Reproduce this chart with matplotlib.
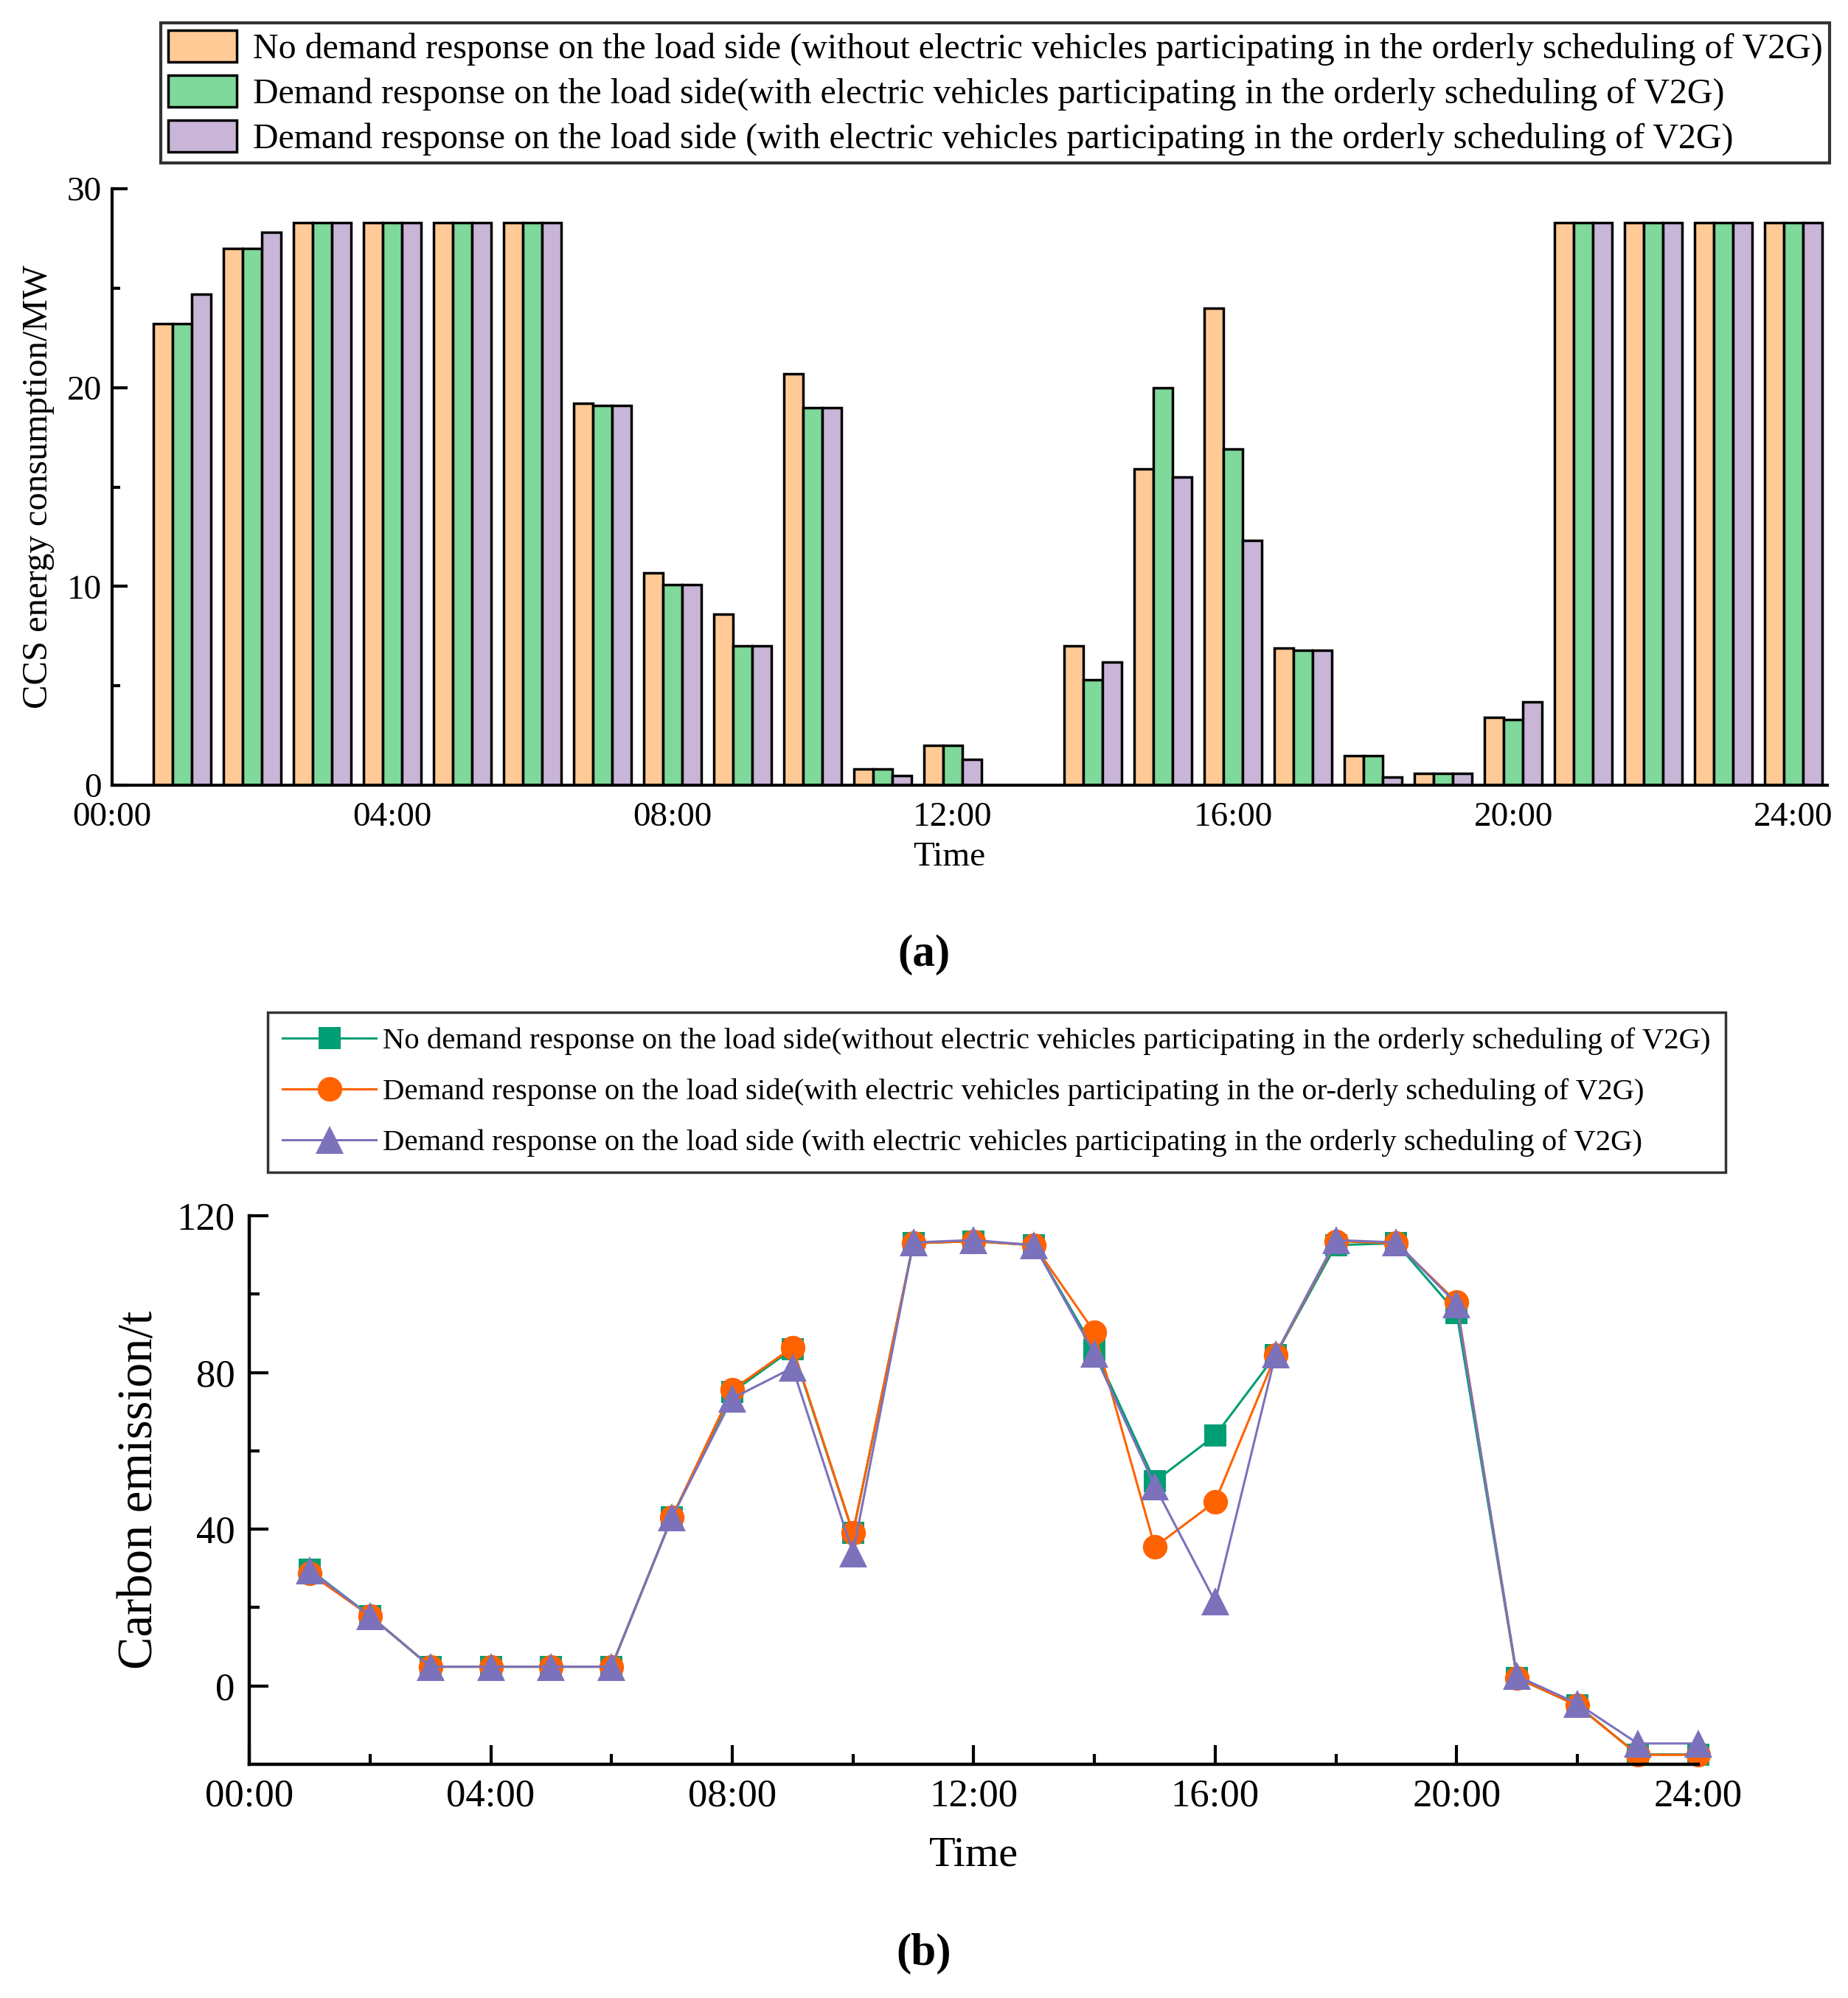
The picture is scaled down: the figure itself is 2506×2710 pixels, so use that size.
import matplotlib
matplotlib.use("Agg")
import matplotlib.pyplot as plt
from matplotlib.patches import Patch
from matplotlib.lines import Line2D
import numpy as np

plt.rcParams['font.family'] = ['Liberation Serif', 'DejaVu Serif']

hours = list(range(1, 25))
tick_hours = [0, 4, 8, 12, 16, 20, 24]
tick_labels = ['00:00', '04:00', '08:00', '12:00', '16:00', '20:00', '24:00']

# (a) CCS energy consumption / MW
ccs_no_dr = [23.2, 27.0, 28.3, 28.3, 28.3, 28.3, 19.2, 10.7, 8.6, 20.7, 0.8, 2.0,
             0.0, 7.0, 15.9, 24.0, 6.9, 1.5, 0.6, 3.4, 28.3, 28.3, 28.3, 28.3]
ccs_dr_v2g = [23.2, 27.0, 28.3, 28.3, 28.3, 28.3, 19.1, 10.1, 7.0, 19.0, 0.8, 2.0,
              0.0, 5.3, 20.0, 16.9, 6.8, 1.5, 0.6, 3.3, 28.3, 28.3, 28.3, 28.3]
ccs_dr_v2g2 = [24.7, 27.8, 28.3, 28.3, 28.3, 28.3, 19.1, 10.1, 7.0, 19.0, 0.5, 1.3,
               0.0, 6.2, 15.5, 12.3, 6.8, 0.4, 0.6, 4.2, 28.3, 28.3, 28.3, 28.3]

# (b) Carbon emission / t
co2_no_dr = [29.7, 17.9, 4.9, 4.9, 4.9, 4.9, 43.0, 75.0, 86.0, 39.0, 113.0, 113.5,
             112.5, 85.8, 52.2, 63.9, 84.4, 112.5, 113.0, 95.2, 2.0, -5.0, -17.5, -17.5]
co2_dr_v2g = [28.7, 17.9, 4.9, 4.9, 4.9, 4.9, 43.0, 75.6, 86.4, 39.1, 113.0, 113.5,
              112.5, 90.3, 35.5, 47.0, 84.4, 113.5, 113.0, 98.0, 2.0, -5.0, -17.6, -17.6]
co2_dr_v2g2 = [29.5, 17.9, 4.9, 4.9, 4.9, 4.9, 43.0, 73.4, 81.2, 33.9, 113.2, 113.8,
               112.5, 84.8, 51.0, 21.5, 84.6, 113.8, 113.2, 97.5, 2.5, -4.5, -14.7, -14.7]

bar_labels = [
    'No demand response on the load side (without electric vehicles participating in the orderly scheduling of V2G)',
    'Demand response on the load side(with electric vehicles participating in the orderly scheduling of V2G)',
    'Demand response on the load side (with electric vehicles participating in the orderly scheduling of V2G)',
]
line_labels = [
    'No demand response on the load side(without electric vehicles participating in the orderly scheduling of V2G)',
    'Demand response on the load side(with electric vehicles participating in the or-derly scheduling of V2G)',
    'Demand response on the load side (with electric vehicles participating in the orderly scheduling of V2G)',
]

bar_colors = ['#FFCA96', '#7FD99A', '#C9B5D8']
line_colors = ['#009E73', '#FF6200', '#7B72BB']

fig = plt.figure(figsize=(25.06, 27.10), dpi=100)

# ---------------- (a) ----------------
ax1 = fig.add_axes([0.0607, 0.607, 0.928, 0.2985])
w = 0.275
x = np.array(hours)
for i, (vals, c) in enumerate(zip([ccs_no_dr, ccs_dr_v2g, ccs_dr_v2g2], bar_colors)):
    ax1.bar(x + (i - 1) * w, vals, width=w, color=c, edgecolor='black', linewidth=2.5)
ax1.set_xlim(0, 24.48)
ax1.set_ylim(0, 30)
ax1.set_xticks(tick_hours)
ax1.set_xticklabels(tick_labels)
ax1.set_yticks([0, 10, 20, 30])
ax1.set_yticks([5, 15, 25], minor=True)
ax1.tick_params(axis='x', length=0, labelsize=34, pad=16)
ax1.tick_params(axis='y', which='major', direction='in', length=15, width=3, labelsize=34, pad=10)
ax1.tick_params(axis='y', which='minor', direction='in', length=8, width=3)
for s in ['top', 'right']:
    ax1.spines[s].set_visible(False)
for s in ['left', 'bottom']:
    ax1.spines[s].set_linewidth(3)
ax1.set_xlabel('Time', fontsize=34, labelpad=4)
ax1.xaxis.set_label_coords(0.488, -0.095)
ax1.set_ylabel('CCS energy consumption/MW', fontsize=35, labelpad=12)

handles1 = [Patch(facecolor=c, edgecolor='black', linewidth=2.5) for c in bar_colors]
leg1 = fig.legend(handles1, bar_labels, loc='upper left', bbox_to_anchor=(0.087, 0.9885),
                  fontsize=34.5, frameon=True, fancybox=False, edgecolor='black',
                  handlelength=1.95, handleheight=1.0, handletextpad=0.45,
                  labelspacing=0.27, borderpad=0.2, borderaxespad=0)
leg1.get_frame().set_linewidth(3)

fig.text(0.5, 1 - 1295 / 2710, '(a)', fontsize=44, fontweight='bold', ha='center', va='center')

# ---------------- (b) ----------------
ax2 = fig.add_axes([0.1349, 0.117, 0.784, 0.2745])
markers = ['s', 'o', '^']
msizes = [21, 24, 27]
for vals, c, m, ms in zip([co2_no_dr, co2_dr_v2g, co2_dr_v2g2], line_colors, markers, msizes):
    ax2.plot(hours, vals, color=c, marker=m, markersize=ms, linewidth=2.2,
             markeredgewidth=0, clip_on=False)
ax2.set_xlim(0, 24)
ax2.set_ylim(-20, 120)
ax2.set_xticks(tick_hours)
ax2.set_xticklabels(tick_labels)
ax2.set_xticks([2, 6, 10, 14, 18, 22], minor=True)
ax2.set_yticks([0, 40, 80, 120])
ax2.set_yticks([20, 60, 100], minor=True)
ax2.tick_params(which='major', direction='in', length=19, width=3, labelsize=38, pad=14)
ax2.tick_params(which='minor', direction='in', length=10, width=3)
for s in ['top', 'right']:
    ax2.spines[s].set_visible(False)
for s in ['left', 'bottom']:
    ax2.spines[s].set_linewidth(3.2)
ax2.set_xlabel('Time', fontsize=42, labelpad=22)
ax2.set_ylabel('Carbon emission/t', fontsize=48, labelpad=14)

handles2 = [Line2D([0], [0], color=c, marker=m, markersize=ms, linewidth=2.2, markeredgewidth=0)
            for c, m, ms in zip(line_colors, markers, msizes)]
leg2 = fig.legend(handles2, line_labels, loc='upper left', bbox_to_anchor=(0.1449, 0.4934),
                  fontsize=29.3, frameon=True, fancybox=False, edgecolor='black',
                  handlelength=3.1, handletextpad=0.24, labelspacing=0.78,
                  borderpad=0.5, borderaxespad=0)
leg2.get_frame().set_linewidth(2.5)

fig.text(0.5, 1 - 2650 / 2710, '(b)', fontsize=44, fontweight='bold', ha='center', va='center')

fig.savefig('out.png', dpi=100)
